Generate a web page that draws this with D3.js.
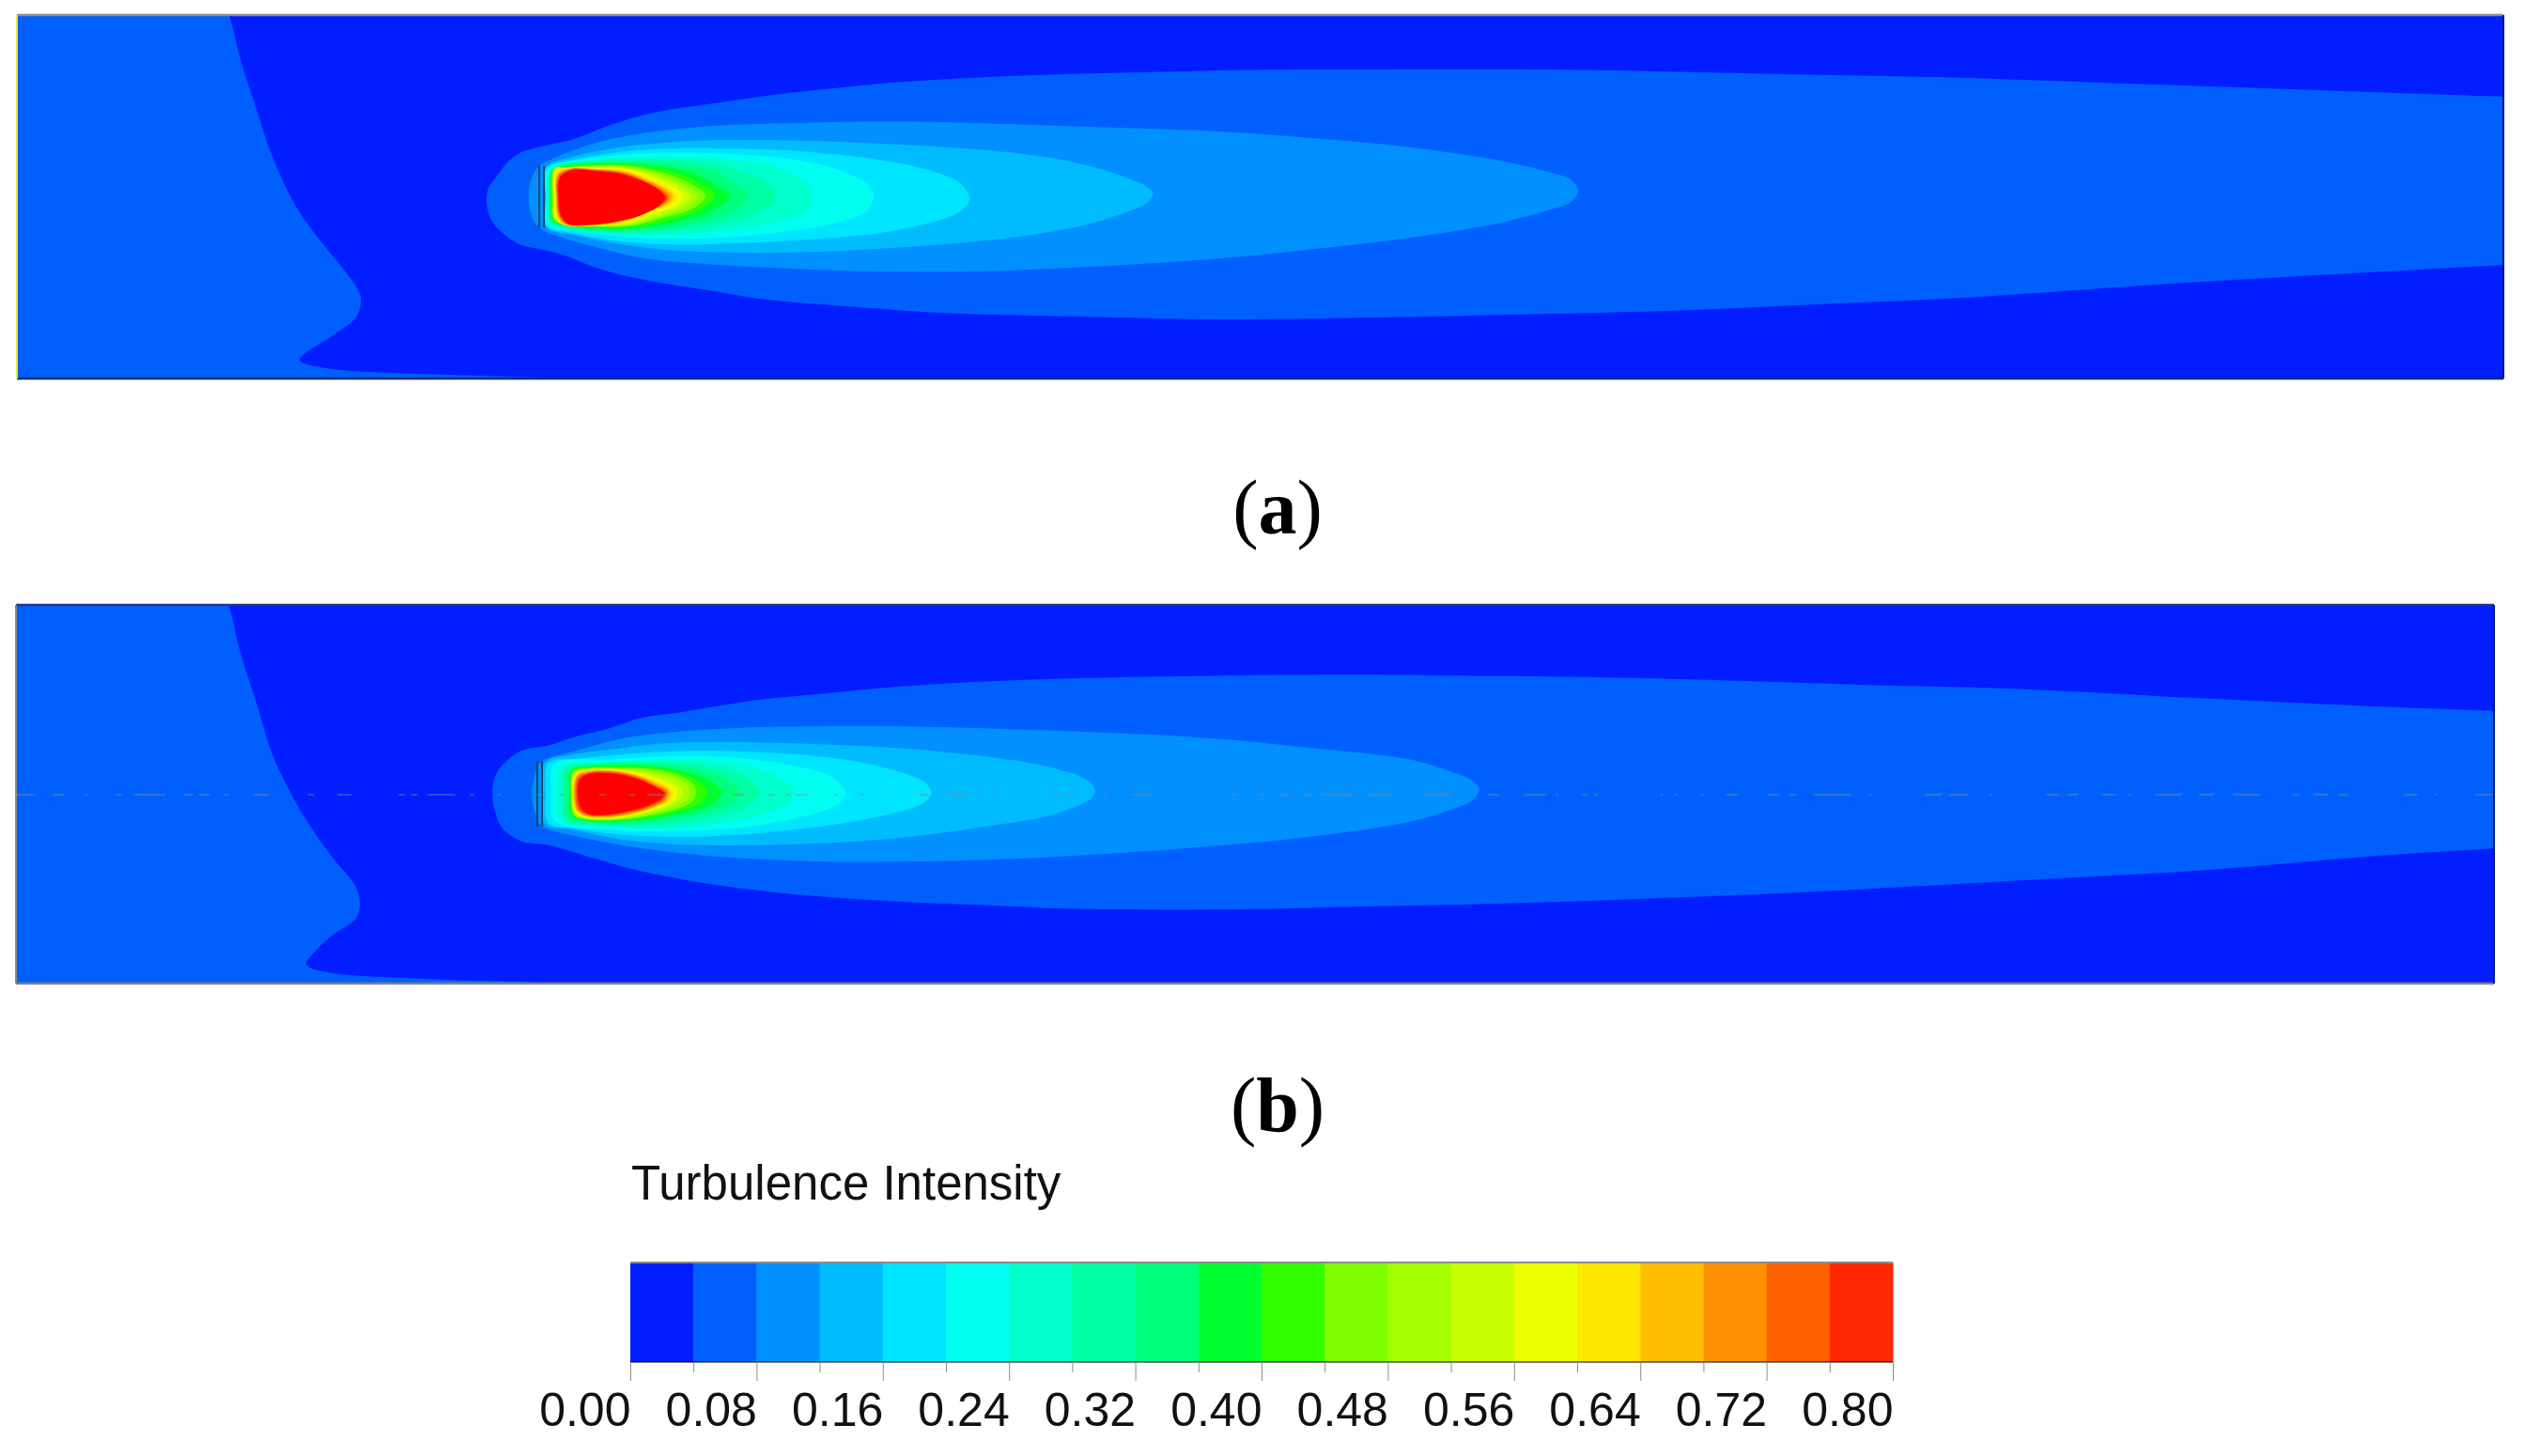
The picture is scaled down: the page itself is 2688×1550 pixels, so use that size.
<!DOCTYPE html>
<html>
<head>
<meta charset="utf-8">
<script src="https://cdn.jsdelivr.net/npm/d3@7"></script>
<style>
html,body{margin:0;padding:0;background:#fff;}
</style>
</head>
<body>
<svg id="chart" width="2688" height="1550"></svg>
<script>
// colour bar
var levels=[0.04,0.08,0.12,0.16,0.20,0.24,0.28,0.32,0.36,0.40,0.44,0.48,0.52,0.56,0.60,0.64,0.68,0.72,0.76,0.80];
var bandColors=["#001eff","#0060ff","#0090ff","#00bcff","#00e5ff","#00fff0","#00ffcc","#00ffa4","#00ff7c","#00ff30","#30ff00","#80ff00","#a4ff00","#c8ff00","#ecff00","#ffe600","#ffbe00","#ff9000","#ff6000","#ff2800","#ff0000"];
var barEdges=[0,0.04,0.08,0.12,0.16,0.20,0.24,0.28,0.32,0.36,0.40,0.44,0.48,0.52,0.56,0.60,0.64,0.68,0.72,0.76,0.80];
var majorTicks=[0,0.08,0.16,0.24,0.32,0.40,0.48,0.56,0.64,0.72,0.80];
var minorTicks=[0.04,0.12,0.20,0.28,0.36,0.44,0.52,0.60,0.68,0.76];

// iso-contours, mesh coordinates. case (a)
var aLeft=[[-640,-60],[-632,-39],[-606,111],[-576,249],[-540,411],[-486,579],[-432,690],[-388,771],[-356,840],[-352,876],[-362,924],[-414,984],[-482,1059],[-424,1086],[-228,1104],[40,1116],[180,1130],[-1100,1145],[-1100,-60]];
var a04=[[4700,244],[4500,233],[4300,223],[4210,219],[3800,197],[3472,180],[3048,158],[2780,150],[2480,140],[2180,132],[1780,132],[1568,133],[1400,138],[1200,145],[1000,155],[800,172],[700,185],[600,200],[500,218],[400,240],[300,262],[220,290],[160,320],[100,355],[50,372],[32,378],[-14,399],[-40,429],[-66,480],[-80,510],[-84,549],[-80,590],[-66,630],[-26,681],[0,697],[28,705],[80,725],[160,770],[240,800],[400,840],[500,865],[700,890],[900,910],[1200,922],[1480,930],[1780,925],[2180,912],[2480,900],[2780,880],[3048,862],[3472,819],[3800,790],[4210,756],[4300,748],[4500,730],[4700,712]];
var a08=[[5,540],[12,480],[28,440],[60,415],[100,390],[150,365],[250,335],[400,312],[600,302],[800,298],[1000,305],[1200,315],[1480,330],[1680,352],[1880,380],[2080,425],[2180,460],[2225,485],[2240,520],[2225,555],[2180,580],[2080,620],[1880,670],[1680,705],[1480,735],[1200,762],[1000,775],[800,778],[600,770],[400,755],[250,735],[150,700],[80,670],[30,640],[12,600]];
var a12=[[40,540],[42,445],[100,410],[200,380],[300,365],[400,358],[600,360],[800,372],[1000,392],[1100,410],[1200,440],[1300,490],[1322,507],[1335,530],[1322,558],[1300,575],[1200,625],[1100,655],[1000,675],[800,700],[600,715],[400,715],[300,708],[200,690],[100,660],[42,635]];
var a16=[[42,540],[44,445],[100,420],[200,395],[300,385],[450,385],[600,395],[750,420],[850,450],[920,490],[936,515],[945,545],[936,570],[920,590],[850,625],[750,655],[600,675],[450,687],[300,690],[200,680],[100,655],[44,632]];
var a20=[[44,540],[46,450],[120,420],[250,400],[400,400],[550,415],[650,445],[720,490],[734,512],[740,535],[734,565],[720,590],[650,625],[550,650],[400,670],[250,670],[120,650],[46,628]];
var a24=[[46,540],[50,455],[70,435],[150,418],[300,410],[430,420],[530,445],[590,490],[604,512],[610,535],[604,565],[590,590],[530,620],[430,645],[300,660],[150,655],[70,635],[50,620]];
var a28=[[48,540],[52,458],[72,438],[150,424],[280,420],[400,435],[480,470],[520,505],[530,535],[520,565],[480,595],[400,630],[280,650],[150,650],[72,632],[52,618]];
var a32=[[50,540],[54,456],[74,440],[150,428],[260,428],[370,445],[440,490],[472,535],[440,585],[370,620],[260,644],[150,645],[74,630],[54,616]];
var a36=[[52,540],[56,454],[76,442],[150,432],[240,434],[340,455],[400,495],[435,535],[400,580],[340,612],[240,638],[150,640],[76,628],[56,614]];
var a40=[[54,540],[58,452],[78,444],[150,436],[230,438],[320,462],[375,500],[402,535],[375,575],[320,606],[230,634],[150,636],[78,626],[58,612]];
var a44=[[56,540],[60,450],[80,445],[150,438],[225,441],[305,468],[360,505],[382,535],[360,572],[305,600],[225,630],[150,634],[80,625],[60,611]];
var a48=[[57,540],[61,449],[82,446],[150,440],[225,444],[295,472],[345,508],[365,537],[345,570],[295,597],[225,627],[150,632],[82,627],[61,610]];
var a52=[[58,540],[62,448],[85,446],[150,442],[222,447],[285,476],[332,510],[350,537],[332,568],[285,594],[222,625],[150,630],[85,628],[62,609]];
var a56=[[60,540],[63,447],[88,446],[150,445],[218,450],[275,480],[320,513],[335,538],[320,566],[275,590],[215,622],[150,629],[88,630],[63,608]];
var a60=[[62,540],[65,455],[90,446],[150,448],[212,453],[268,483],[310,515],[322,538],[310,562],[268,586],[210,620],[150,630],[85,630],[65,607]];
var a64=[[64,540],[67,462],[94,447],[150,450],[208,456],[262,486],[304,518],[314,538],[304,560],[262,583],[206,618],[140,630],[85,629],[68,605]];
var a68=[[65,540],[68,468],[96,449],[145,451],[205,459],[258,487],[298,520],[308,539],[298,558],[252,590],[200,616],[135,630],[88,628],[70,603]];
var a72=[[66,540],[69,472],[98,450],[142,453],[203,461],[254,489],[292,521],[303,540],[292,560],[248,594],[196,617],[132,629],[89,627],[72,602]];
var a76=[[68,540],[71,476],[100,451],[141,454],[201,463],[252,490],[288,521],[299,540],[288,562],[244,597],[192,618],[131,628],[90,626],[74,601]];
var a80=[[70,540],[72,480],[85,460],[105,452],[140,455],[200,465],[250,490],[285,520],[295,540],[285,565],[240,600],[190,618],[130,628],[90,625],[75,600]];

// case (b)
var bLeft=[[-640,-70],[-633,-48],[-607,110],[-575,260],[-540,430],[-495,570],[-450,680],[-406,770],[-365,845],[-354,900],[-361,950],[-415,1010],[-450,1060],[-468,1100],[-423,1125],[-227,1145],[41,1158],[220,1162],[420,1175],[-1100,1185],[-1100,-70]];
var b04=[[4700,328],[4500,313],[4300,298],[4186,290],[3924,275],[3562,250],[3202,222],[2840,207],[2480,190],[2280,183],[1980,178],[1780,175],[1480,178],[1200,185],[1000,195],[800,212],[600,240],[470,260],[330,295],[240,315],[180,345],[100,375],[50,400],[-13,420],[-48,460],[-66,500],[-72,555],[-66,610],[-53,660],[-13,705],[50,720],[120,750],[240,800],[400,845],[600,880],[800,900],[1000,912],[1150,922],[1480,925],[1780,915],[2080,905],[2380,890],[2680,872],[2840,860],[3202,830],[3562,800],[3924,755],[4186,730],[4300,719],[4500,700],[4700,681]];
var b08=[[12,555],[18,500],[30,455],[50,440],[100,420],[200,380],[300,360],[450,345],[600,340],[800,340],[1000,347],[1200,358],[1480,380],[1680,410],[1880,445],[1980,490],[2016,515],[2030,540],[2016,575],[1980,600],[1880,645],[1680,690],[1480,720],[1200,750],[1000,765],[800,772],[600,770],[400,755],[250,730],[120,695],[50,670],[30,655],[18,610]];
var b12=[[36,555],[40,455],[100,430],[200,410],[300,393],[400,390],[600,395],[800,410],[1000,440],[1100,465],[1180,500],[1203,522],[1212,545],[1203,570],[1180,590],[1100,630],[1000,655],[800,695],[600,715],[400,720],[300,715],[200,700],[100,670],[40,652]];
var b16=[[42,555],[48,455],[100,445],[200,430],[350,418],[500,422],[650,440],[760,470],[840,510],[856,530],[863,550],[856,572],[840,590],[760,625],[650,655],[500,680],[350,693],[200,685],[100,665],[48,650]];
var b20=[[55,555],[60,460],[180,445],[300,435],[450,440],[570,465],[650,500],[672,528],[680,552],[672,578],[650,600],[570,635],[450,665],[300,675],[180,670],[60,640]];
var b24=[[68,555],[75,470],[160,455],[280,445],[400,450],[490,475],[545,510],[563,530],[570,550],[563,575],[545,595],[490,625],[400,650],[280,665],[160,660],[75,640]];
var b28=[[78,555],[85,472],[150,458],[240,452],[340,458],[420,478],[475,510],[497,550],[475,590],[420,620],[340,645],[240,658],[150,652],[85,638]];
var b32=[[85,555],[90,475],[140,463],[220,458],[310,465],[380,482],[430,510],[455,550],[430,590],[380,615],[310,635],[220,650],[140,648],[90,632]];
var b36=[[92,555],[98,480],[130,468],[210,465],[290,470],[350,488],[395,515],[417,550],[395,590],[350,612],[290,630],[210,644],[130,642],[98,625]];
var b40=[[95,555],[100,482],[125,472],[200,468],[275,473],[330,490],[370,520],[386,552],[370,585],[330,608],[275,626],[200,640],[125,638],[100,625]];
var b44=[[96,555],[101,483],[125,474],[195,471],[268,477],[322,494],[355,522],[362,553],[352,582],[318,605],[268,623],[195,638],[125,636],[102,622]];
var b48=[[97,555],[102,484],[125,476],[192,473],[262,482],[314,500],[342,525],[348,554],[340,578],[308,600],[260,620],[192,636],[125,634],[103,620]];
var b52=[[98,555],[103,486],[126,478],[190,475],[256,488],[305,508],[328,530],[335,555],[326,576],[298,598],[252,618],[188,634],[126,632],[104,618]];
var b56=[[99,555],[105,490],[128,480],[188,478],[250,492],[296,516],[318,535],[322,555],[314,578],[290,596],[246,616],[184,632],[128,630],[106,616]];
var b60=[[100,555],[106,492],[129,481],[186,480],[244,495],[290,520],[310,540],[314,555],[306,582],[286,592],[240,615],[182,631],[129,629],[107,613]];
var b64=[[101,555],[108,495],[130,482],[185,480],[240,497],[285,525],[303,540],[307,555],[300,578],[285,590],[240,615],[180,630],[130,628],[108,610]];
var b68=[[103,555],[109,498],[131,485],[184,483],[238,499],[280,527],[300,542],[303,555],[296,575],[280,590],[238,612],[180,627],[131,625],[110,608]];
var b72=[[105,555],[111,502],[132,488],[183,485],[236,501],[276,529],[297,545],[300,555],[292,573],[276,588],[236,610],[180,625],[132,623],[112,606]];
var b76=[[108,555],[113,506],[133,490],[181,488],[233,503],[273,530],[295,550],[297,555],[288,574],[273,587],[233,607],[180,622],[133,621],[115,603]];
var b80=[[110,555],[115,510],[135,492],[180,490],[230,505],[270,530],[295,555],[270,585],[230,605],[180,620],[135,620],[118,600]];

// rotor disc position and the broken centre line of case (b)
var aRotorX=[28,38], aRotorY=[440,637];
var bRotorX=[24,34], bRotorY=[450,660];
var dashStart=[-1084,-1006,-941,-874,-834,-727,-696,-642,-580,-464,-401,-272,-245,-209,-120,-62,23,70,155,220,258,440,515,552,575,655,710,780,835,900,960,995,1120,1155,1230,1290,1500,1562,1610,1655,1695,1795,1910,2050,2125,2192,2248,2275,2415,2445,2500,2555,2645,2690,2742,2860,2980,3030,3115,3237,3282,3355,3409,3468,3562,3635,3761,3806,3860,4000,4064,4149];
var dashEnd=[-1044,-982,-934,-861,-767,-709,-673,-633,-548,-452,-372,-258,-231,-151,-111,-53,34,80,170,232,295,465,528,562,598,665,722,785,858,940,972,1005,1140,1172,1238,1330,1512,1575,1628,1670,1765,1840,1970,2070,2172,2198,2260,2283,2420,2450,2508,2580,2670,2705,2820,2865,3015,3070,3122,3264,3305,3386,3418,3526,3594,3693,3775,3838,3878,4027,4068,4189];

var aContours=[a04,a08,a12,a16,a20,a24,a28,a32,a36,a40,a44,a48,a52,a56,a60,a64,a68,a72,a76,a80];
var bContours=[b04,b08,b12,b16,b20,b24,b28,b32,b36,b40,b44,b48,b52,b56,b60,b64,b68,b72,b76,b80];

var svg=d3.select("#chart");
var color=d3.scaleThreshold().domain(levels).range(bandColors);

function drawPanel(name,box,xDomain,yDomain,left,contours,rotorX,rotorY,edges) {
  var x=d3.scaleLinear().domain(xDomain).range([box.x0,box.x1]);
  var y=d3.scaleLinear().domain(yDomain).range([box.y0,box.y1]);
  var line=d3.line()
     .x(function(d) { return x(d[0]); })
     .y(function(d) { return y(d[1]); })
     .curve(d3.curveCatmullRomClosed.alpha(0.5));

  svg.append("clipPath").attr("id","clip-"+name).append("rect")
     .attr("x",box.x0).attr("y",box.y0)
     .attr("width",box.x1-box.x0).attr("height",box.y1-box.y0);

  var g=svg.append("g").attr("clip-path","url(#clip-"+name+")");
  g.append("rect")
     .attr("x",box.x0).attr("y",box.y0)
     .attr("width",box.x1-box.x0).attr("height",box.y1-box.y0)
     .attr("fill",color(0));
  g.append("path").attr("d",line(left)).attr("fill",color(0.04));
  g.selectAll("path.band").data(contours).enter().append("path")
     .attr("class","band")
     .attr("d",line)
     .attr("fill",function(d,i) { return color(levels[i]); });

  g.selectAll("line.rotor").data(rotorX).enter().append("line")
     .attr("class","rotor")
     .attr("x1",function(d) { return x(d); })
     .attr("x2",function(d) { return x(d); })
     .attr("y1",y(rotorY[0])).attr("y2",y(rotorY[1]))
     .attr("stroke","#1d4468").attr("stroke-width",2);

  // frame, each side has its own tint in the source image
  svg.append("line").attr("x1",box.x0).attr("x2",box.x1).attr("y1",box.y0).attr("y2",box.y0)
     .attr("stroke",edges.top).attr("stroke-width",2.5);
  svg.append("line").attr("x1",box.x0).attr("x2",box.x1).attr("y1",box.y1).attr("y2",box.y1)
     .attr("stroke",edges.bottom).attr("stroke-width",2.5);
  svg.append("line").attr("x1",box.x0).attr("x2",box.x0).attr("y1",box.y0).attr("y2",box.y1)
     .attr("stroke",edges.left).attr("stroke-width",2);
  svg.append("line").attr("x1",box.x1).attr("x2",box.x1).attr("y1",box.y0).attr("y2",box.y1)
     .attr("stroke",edges.right).attr("stroke-width",2);
  return {x:x,y:y};
}

var panelA=drawPanel("a",{x0:18,x1:2665,y0:16,y1:403},[-1084,4210],[-42,1119],aLeft,aContours,aRotorX,aRotorY,
   {top:"#8f8f8f",bottom:"#003080",left:"#e6e64a",right:"#00138f"});
var panelB=drawPanel("b",{x0:17,x1:2655,y0:644,y1:1047},[-1086,4190],[-48,1161],bLeft,bContours,bRotorX,bRotorY,
   {top:"#26348c",bottom:"#808080",left:"#8a8a8a",right:"#0a1a70"});

// centre line dashes, only on (b)
svg.selectAll("line.dash").data(dashStart).enter().append("line")
   .attr("class","dash")
   .attr("x1",function(d) { return panelB.x(d); })
   .attr("x2",function(d,i) { return panelB.x(dashEnd[i]); })
   .attr("y1",panelB.y(558)).attr("y2",panelB.y(558))
   .attr("stroke","#808a90").attr("stroke-width",1.5).attr("opacity",0.55);

// captions
function caption(letter,cy) {
  var t=svg.append("text").attr("x",1360).attr("y",cy).attr("text-anchor","middle")
     .attr("font-family","'Liberation Serif'").attr("font-size",82).attr("fill","#000");
  t.append("tspan").text("(");
  t.append("tspan").attr("font-weight","bold").text(letter);
  t.append("tspan").text(")");
}
caption("a",568);
caption("b",1204);

// legend
var barX=d3.scaleLinear().domain([0,0.8]).range([671,2015]);
var barTop=1344, barBottom=1450;
svg.append("text").attr("x",672).attr("y",1277)
   .attr("font-family","'Liberation Sans'").attr("font-size",51).attr("fill","#111")
   .text("Turbulence Intensity");

svg.selectAll("rect.bar").data(barEdges.slice(0,-1)).enter().append("rect")
   .attr("class","bar")
   .attr("x",function(d) { return barX(d); })
   .attr("width",function(d,i) { return barX(barEdges[i+1])-barX(d)+0.5; })
   .attr("y",barTop).attr("height",barBottom-barTop)
   .attr("fill",function(d,i) { return bandColors[i]; });
svg.append("line").attr("x1",barX(0)).attr("x2",barX(0.8)).attr("y1",barTop).attr("y2",barTop)
   .attr("stroke","#8c8c8c").attr("stroke-width",2);
svg.append("line").attr("x1",barX(0)).attr("x2",barX(0.8)).attr("y1",barBottom).attr("y2",barBottom)
   .attr("stroke","#000").attr("stroke-opacity",0.5).attr("stroke-width",2);

var minorAxis=d3.axisBottom(barX).tickValues(minorTicks).tickSize(11).tickFormat("");
var majorAxis=d3.axisBottom(barX).tickValues(majorTicks).tickSize(20).tickPadding(12).tickFormat(d3.format(".2f"));
svg.append("g").attr("transform","translate(0,"+barBottom+")").call(minorAxis)
   .call(function(g) { g.select(".domain").remove(); g.selectAll("line").attr("stroke","#8c8c8c"); });
svg.append("g").attr("transform","translate(0,"+barBottom+")").call(majorAxis)
   .call(function(g) {
      g.select(".domain").remove();
      g.selectAll("line").attr("stroke","#8c8c8c");
      g.selectAll("text")
       .attr("text-anchor","end")
       .attr("font-family","'Liberation Sans'").attr("font-size",50).attr("fill","#111");
   });
</script>
</body>
</html>
